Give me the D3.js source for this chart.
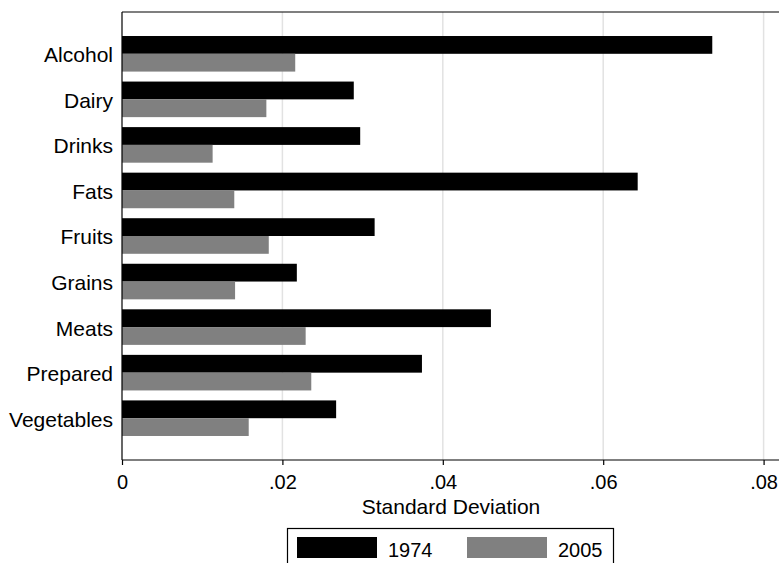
<!DOCTYPE html>
<html><head><meta charset="utf-8">
<script src="https://cdn.jsdelivr.net/npm/d3@7"></script>
<style>body{margin:0;background:#fff}svg{display:block}text{font-family:"Liberation Sans",Arial,sans-serif;fill:#000}</style>
</head><body><svg id="c" width="779" height="563"></svg>
<script>
const categories = ["Alcohol","Dairy","Drinks","Fats","Fruits","Grains","Meats","Prepared","Vegetables"];
const values1974 = [0.0736,0.0289,0.0297,0.0643,0.0315,0.0218,0.0460,0.0374,0.0267];
const values2005 = [0.0216,0.0180,0.0113,0.0140,0.0183,0.0141,0.0229,0.0236,0.0158];
const seriesNames = ["1974","2005"];
const seriesColors = ["#000000","#808080"];
const xTicks = [0,0.02,0.04,0.06,0.08];
const xTickLabels = ["0",".02",".04",".06",".08"];

const svg = d3.select("#c");
const L = 122, T = 12, R = 780, B = 460;
const x = d3.scaleLinear().domain([0,0.08]).range([L, L + 4*160.4]);
const y = d3.scaleBand().domain(categories).range([31,441]).paddingInner(0.219).paddingOuter(0.11);
const ys = d3.scaleBand().domain(seriesNames).range([0, y.bandwidth()]);

// gridlines
svg.append("g").selectAll("line").data(xTicks.slice(1)).join("line")
  .attr("x1", d=>x(d)).attr("x2", d=>x(d)).attr("y1", T).attr("y2", B)
  .attr("stroke", "#e2e2e2").attr("stroke-width", 1.5);

// bars
const data = categories.map((c,i)=>({c, v:[values1974[i], values2005[i]]}));
const g = svg.append("g");
data.forEach(d=>{
  seriesNames.forEach((s,j)=>{
    g.append("rect").attr("x", x(0)).attr("y", y(d.c)+ys(s))
      .attr("width", x(d.v[j]) - x(0)).attr("height", ys.bandwidth())
      .attr("fill", seriesColors[j]);
  });
});

// frame: top line and left line
svg.append("line").attr("x1", L).attr("x2", 779).attr("y1", T).attr("y2", T).attr("stroke","#000").attr("stroke-width",1.2);
svg.append("line").attr("x1", L).attr("x2", L).attr("y1", T).attr("y2", B).attr("stroke","#000").attr("stroke-width",1.2);

// x axis
const ax = d3.axisBottom(x).tickValues(xTicks).tickFormat((d,i)=>xTickLabels[i]).tickSize(5).tickPadding(4);
const axg = svg.append("g").attr("transform", `translate(0,${B})`).call(ax);
axg.attr("font-size", 20).attr("font-family",'"Liberation Sans",Arial,sans-serif');
axg.select(".domain").attr("d", `M${L},0H779`).attr("stroke","#000").attr("stroke-width",1.2);
axg.selectAll(".tick line").attr("stroke","#000").attr("stroke-width",1.2);
axg.selectAll(".tick text").attr("fill","#000").attr("y", 29).attr("dy", null);

svg.append("text").attr("x", (L+R)/2).attr("y", 514).attr("text-anchor","middle").attr("font-size",21).text("Standard Deviation");

// category labels
svg.append("g").selectAll("text").data(categories).join("text")
  .attr("x", 113).attr("y", d=>y(d)+y.bandwidth()/2).attr("dy","0.4em")
  .attr("text-anchor","end").attr("font-size",21).text(d=>d);

// legend
const lg = svg.append("g");
lg.append("rect").attr("x",287.5).attr("y",528.5).attr("width",326).attr("height",50).attr("fill","#fff").attr("stroke","#000").attr("stroke-width",1.2);
const lx = [297, 467];
seriesNames.forEach((s,j)=>{
  lg.append("rect").attr("x",lx[j]).attr("y",537).attr("width",80).attr("height",21).attr("fill",seriesColors[j]);
  lg.append("text").attr("x",lx[j]+91).attr("y",557).attr("font-size",20).text(s);
});
</script></body></html>
